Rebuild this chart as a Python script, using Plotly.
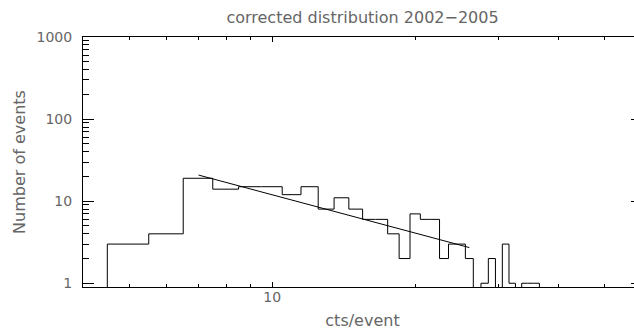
import math
import plotly.graph_objects as go

# ---- data ----
cts = list(range(4, 41))  # bin centres (cts/event)
counts = [0, 3, 4, 19, 14, 15, 15, 12, 15, 8, 11, 8, 6, 6, 4, 2, 7, 6, 6, 2,
          3, 3, 2, 0, 1, 2, 0, 3, 1, 0, 1, 1, 1, 0, 0, 0, 0]
fit_x = [7.0, 26.0]
fit_y = [20.8, 2.72]

x_major = [10]
x_major_text = ["10"]
x_minor = [5, 6, 7, 8, 9, 20, 30, 40, 50, 60]
y_major = [1, 10, 100, 1000]
y_major_text = ["1", "10", "100", "1000"]
y_minor = [m * d for d in (1, 10, 100) for m in range(2, 10)]

# ---- build step (psym=10 style) outline ----
floor_val = 0.5  # zero counts fall below the log range and are clipped
edges = [c - 0.5 for c in cts] + [cts[-1] + 0.5]
vals = [v if v > 0 else floor_val for v in counts]
step_y = vals + [vals[-1]]

fig = go.Figure()
fig.add_trace(go.Scatter(x=edges, y=step_y, mode="lines",
                         line=dict(color="black", width=1, shape="hv"),
                         hoverinfo="skip"))
fig.add_trace(go.Scatter(x=fit_x, y=fit_y, mode="lines",
                         line=dict(color="black", width=1),
                         hoverinfo="skip"))

font_fam = "DejaVu Sans"
txt_col = "#666666"

fig.update_layout(
    width=652, height=331,
    margin=dict(l=83, r=10, t=37, b=44, autoexpand=False),
    plot_bgcolor="white", paper_bgcolor="white",
    showlegend=False,
    font=dict(family=font_fam, color=txt_col, size=14),
    title=dict(text="corrected distribution 2002\u22122005",
               x=0.5, xref="paper", xanchor="center",
               y=1 - 17 / 331, yref="container", yanchor="middle",
               font=dict(size=16, color=txt_col, family=font_fam)),
)

fig.update_xaxes(
    type="log", range=[math.log10(4), math.log10(60)], automargin=False,
    showline=True, linecolor="black", linewidth=1, mirror="allticks",
    showgrid=False, zeroline=False,
    ticks="inside", ticklen=5, tickwidth=1, tickcolor="black",
    tickmode="array", tickvals=x_major, ticktext=x_major_text,
    tickfont=dict(size=14, color=txt_col),
    ticklabelstandoff=-3,
    minor=dict(ticks="inside", ticklen=3, tickwidth=1, tickcolor="black",
               tickmode="array", tickvals=x_minor, showgrid=False),
    title=dict(text="cts/event", font=dict(size=16, color=txt_col), standoff=11),
)
fig.update_yaxes(
    type="log", range=[math.log10(0.9), 3], automargin=False,
    showline=True, linecolor="black", linewidth=1, mirror="allticks",
    showgrid=False, zeroline=False,
    ticks="inside", ticklen=11, tickwidth=1, tickcolor="black",
    tickmode="array", tickvals=y_major, ticktext=y_major_text,
    tickfont=dict(size=14, color=txt_col),
    ticklabelstandoff=7,
    minor=dict(ticks="inside", ticklen=5.5, tickwidth=1, tickcolor="black",
               tickmode="array", tickvals=y_minor, showgrid=False),
    title=dict(text="Number of events", font=dict(size=16, color=txt_col), standoff=6),
)

fig.write_html(
    "out.html",
    post_script="document.documentElement.style.overflow='hidden';"
                "document.body.style.overflow='hidden';",
)
